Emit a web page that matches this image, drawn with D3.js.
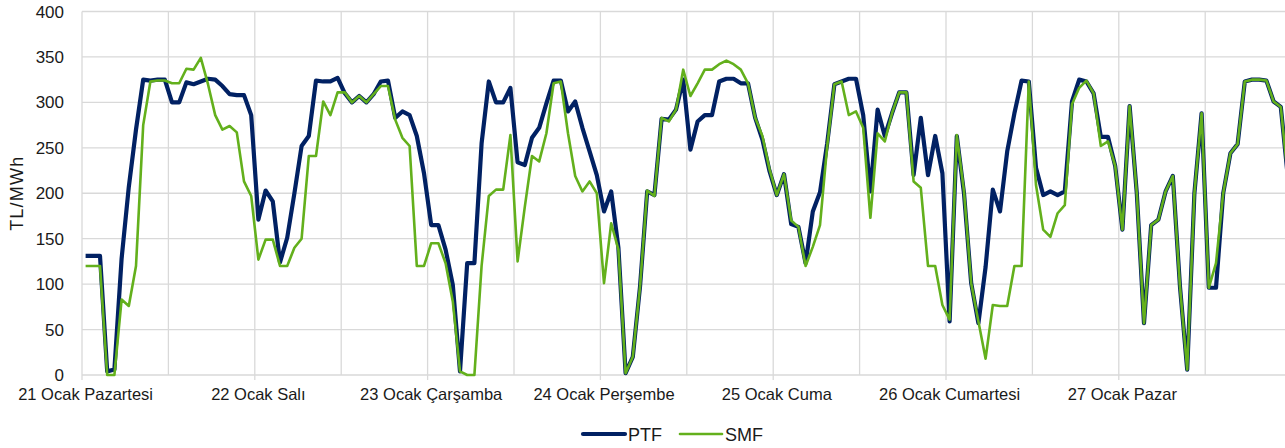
<!DOCTYPE html>
<html>
  <head>
    <meta charset="utf-8">
    <title>PTF / SMF</title>
    <script src="https://d3js.org/d3.v7.min.js"></script>
  </head>
  <body style="margin:0;background:#fff">
<style>
  text {
    font-family: "Liberation Sans", Arial, sans-serif;
    fill: #1a1a1a;
  }
  .grid line {
    stroke: #d9d9d9;
    stroke-width: 1.3;
  }
</style>
<script type="text/javascript">

  // day labels (one every 24 hours)
  var days = ["21 Ocak Pazartesi", "22 Ocak Salı", "23 Ocak Çarşamba", "24 Ocak Perşembe",
              "25 Ocak Cuma", "26 Ocak Cumartesi", "27 Ocak Pazar"];

  var yTicks = [0, 50, 100, 150, 200, 250, 300, 350, 400];

  // hourly PTF, TL/MWh
  var ptf = [
    131,131,131,4,6,128,207,270,325,324,325,325,300,300,322,320,323,326,325,318,309,308,308,286,
    171,203,191,124,151,200,252,263,324,323,323,327,310,300,307,300,309,323,324,283,290,286,263,222,
    165,165,138,99,4,123,123,255,323,300,300,316,234,231,261,272,299,324,324,290,301,272,246,220,
    180,202,140,2,20,97,202,198,282,281,292,325,248,279,286,286,323,326,326,321,321,283,259,224,
    198,221,166,163,123,180,201,255,320,323,326,326,286,202,292,263,288,311,311,220,283,220,263,222,
    59,263,200,101,57,119,204,180,246,288,324,323,228,198,202,198,202,301,325,323,310,262,262,230,
    160,296,200,57,165,171,202,219,97,6,200,288,96,96,200,244,254,323,325,325,324,301,295,216
  ];

  // hourly SMF, TL/MWh
  var smf = [
    120,120,120,0,0,83,76,120,275,323,324,324,321,321,337,336,349,320,286,270,274,267,213,197,
    127,149,149,120,120,140,150,241,241,301,286,311,311,300,307,300,309,318,318,281,261,252,120,120,
    145,145,123,81,4,0,0,120,197,204,204,264,125,185,241,235,266,321,323,266,219,202,213,200,
    101,167,138,2,20,97,203,197,283,279,292,336,307,321,336,336,342,346,342,336,321,283,263,226,
    198,221,170,163,120,141,165,252,320,323,286,290,272,173,266,257,288,311,311,213,206,120,120,77,
    61,264,202,101,59,18,77,76,76,120,120,323,209,160,152,178,187,298,316,324,310,252,257,230,
    160,296,200,57,165,171,202,219,97,6,200,288,96,123,200,244,254,323,325,325,324,301,295,216
  ];

  var w = 1285,
      h = 448,
      step = 7.2,
      left = 82,
      n = ptf.length;

  var svg = d3.select("body").append("svg")
    .attr("width", w)
    .attr("height", h);

  // hour index -> pixel (points sit in the middle of each hour slot)
  var x = d3.scaleLinear()
    .domain([0, n])
    .range([left, left + n * step]);

  var y = d3.scaleLinear()
    .domain([0, 400])
    .range([375, 11.5]);

  var grid = svg.append("g").attr("class", "grid");

  // horizontal gridlines
  grid.selectAll("line.h")
    .data(yTicks)
    .enter()
    .append("line")
    .attr("class", "h")
    .attr("x1", left)
    .attr("x2", w)
    .attr("y1", function(d) { return y(d); })
    .attr("y2", function(d) { return y(d); });

  // vertical gridlines every 12 hours
  grid.selectAll("line.v")
    .data(d3.range(0, n + 1, 12))
    .enter()
    .append("line")
    .attr("class", "v")
    .attr("x1", function(d) { return x(d); })
    .attr("x2", function(d) { return x(d); })
    .attr("y1", y(400))
    .attr("y2", y(0));

  // tick marks under the axis at each day start
  grid.selectAll("line.t")
    .data(d3.range(0, n, 24))
    .enter()
    .append("line")
    .attr("class", "t")
    .attr("x1", function(d) { return x(d); })
    .attr("x2", function(d) { return x(d); })
    .attr("y1", y(0))
    .attr("y2", y(0) + 5);

  // y tick labels
  svg.append("g")
    .selectAll("text")
    .data(yTicks)
    .enter()
    .append("text")
    .attr("x", 64)
    .attr("y", function(d) { return y(d) + 6; })
    .attr("text-anchor", "end")
    .style("font-size", "17px")
    .text(function(d) { return d; });

  // x day labels
  svg.append("g")
    .selectAll("text")
    .data(days)
    .enter()
    .append("text")
    .attr("x", function(d, i) { return x(i * 24 + 0.5); })
    .attr("y", 400)
    .attr("text-anchor", "middle")
    .style("font-size", "16.5px")
    .text(function(d) { return d; });

  // axis title
  svg.append("text")
    .attr("transform", "translate(23," + y(200) + ") rotate(-90)")
    .attr("text-anchor", "middle")
    .style("font-size", "18px")
    .style("letter-spacing", "1.2px")
    .text("TL/MWh");

  var line = d3.line()
    .x(function(d, i) { return x(i + 0.5); })
    .y(function(d) { return y(d); });

  svg.append("clipPath").attr("id", "plot")
    .append("rect")
    .attr("x", left)
    .attr("y", 0)
    .attr("width", w - left)
    .attr("height", h);

  var series = [
    {name: "PTF", values: ptf, color: "#012163", width: 4.2},
    {name: "SMF", values: smf, color: "#63b01c", width: 2.6}
  ];

  svg.append("g")
    .attr("clip-path", "url(#plot)")
    .selectAll("path")
    .data(series)
    .enter()
    .append("path")
    .attr("d", function(d) { return line(d.values); })
    .style("fill", "none")
    .style("stroke", function(d) { return d.color; })
    .style("stroke-width", function(d) { return d.width; })
    .style("stroke-linejoin", "round");

  // legend
  var legend = svg.append("g")
    .selectAll("g")
    .data(series)
    .enter()
    .append("g")
    .attr("transform", function(d, i) { return "translate(" + (583 + i * 97) + ",434)"; });

  legend.append("line")
    .attr("x1", 0)
    .attr("x2", 42)
    .style("stroke", function(d) { return d.color; })
    .style("stroke-width", function(d) { return d.width; })
    .style("stroke-linecap", "round");

  legend.append("text")
    .attr("x", 45)
    .attr("y", 7)
    .style("font-size", "18px")
    .text(function(d) { return d.name; });

    </script>
  </body>
</html>
